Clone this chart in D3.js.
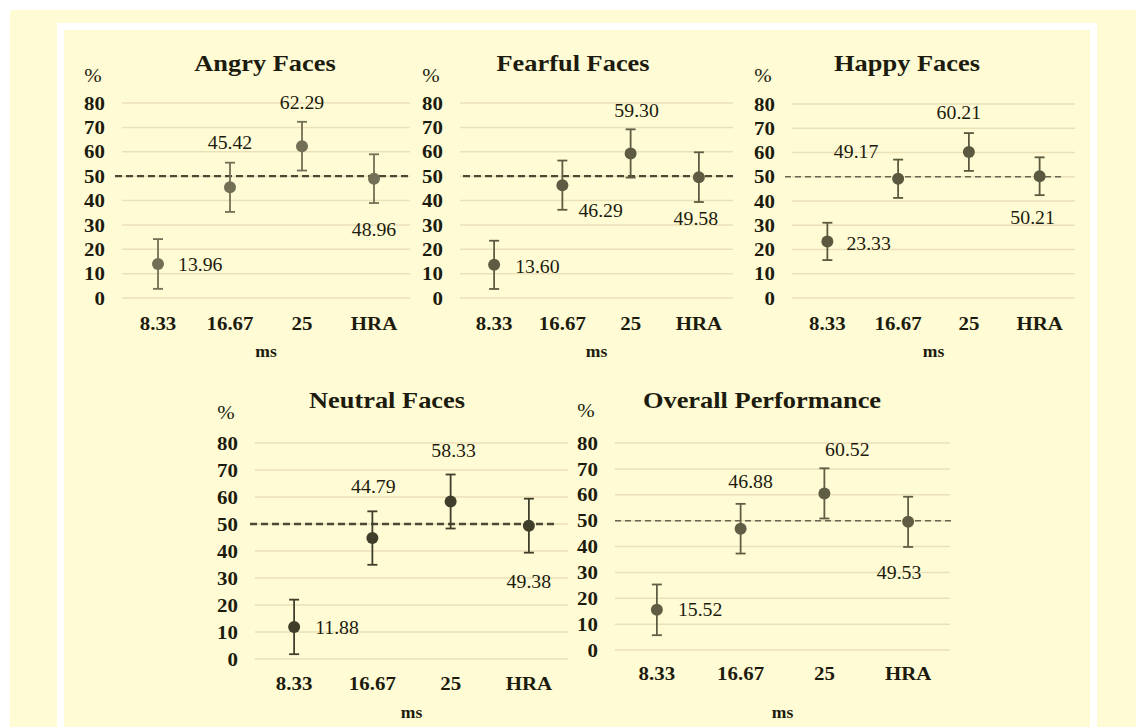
<!DOCTYPE html>
<html>
<head>
<meta charset="utf-8">
<script src="https://cdn.jsdelivr.net/npm/d3@7"></script>
<style>
  html, body { margin: 0; padding: 0; background: #ffffff; }
  svg { display: block; }
  text { font-family: "Liberation Serif", "Times New Roman", serif; fill: #1c1b0e; }
  .title { font-size: 24px; font-weight: bold; }
  .tick { font-size: 19px; font-weight: bold; }
  .val { font-size: 18px; }
  .pct { font-size: 19px; }
  .ms { font-size: 16px; font-weight: bold; }
</style>
</head>
<body>
<div id="chart"></div>
<script>
////////////////////////////////////////////////////////////
//////////////////////// Data //////////////////////////////
////////////////////////////////////////////////////////////

var panelTitles = ["Angry Faces", "Fearful Faces", "Happy Faces", "Neutral Faces", "Overall Performance"];
var categories = ["8.33", "16.67", "25", "HRA"];
var yTicks = [0, 10, 20, 30, 40, 50, 60, 70, 80];
var chanceLevel = 50;

var angryMeans   = [13.96, 45.42, 62.29, 48.96];
var fearfulMeans = [13.60, 46.29, 59.30, 49.58];
var happyMeans   = [23.33, 49.17, 60.21, 50.21];
var neutralMeans = [11.88, 44.79, 58.33, 49.38];
var overallMeans = [15.52, 46.88, 60.52, 49.53];

// error bar half-widths
var angryErr   = [10.2, 10.1, 10.0, 10.0];
var fearfulErr = [9.9, 10.1, 9.9, 10.2];
var happyErr   = [7.7, 7.9, 7.8, 7.8];
var neutralErr = [10.1, 9.9, 10.0, 10.0];
var overallErr = [9.8, 9.6, 9.7, 9.7];

var allMeans = [angryMeans, fearfulMeans, happyMeans, neutralMeans, overallMeans];
var allErr = [angryErr, fearfulErr, happyErr, neutralErr, overallErr];

////////////////////////////////////////////////////////////
//////////////////////// Layout ////////////////////////////
////////////////////////////////////////////////////////////

var W = 1136, H = 727;
var bg = "#fffbd5";

// plot box of each panel (gridline extent, y of 80 and 0), title / label rows
var layout = [
  { x0: 122, x1: 410, yTop: 103, yBot: 298, titleX: 265, titleY: 63, tickY: 323, msY: 352, pctY: 75, dash: [115, 410], thick: true, dot: "#716f55" },
  { x0: 460, x1: 733, yTop: 103, yBot: 298, titleX: 573, titleY: 63, tickY: 323, msY: 352, pctY: 75, dash: [463, 733], thick: true, dot: "#5d5c43" },
  { x0: 792, x1: 1075, yTop: 104, yBot: 298, titleX: 907, titleY: 63, tickY: 323, msY: 352, pctY: 75, dash: [785, 1062], thick: false, dot: "#5a593f" },
  { x0: 255, x1: 568, yTop: 443, yBot: 659, titleX: 387, titleY: 400, tickY: 683, msY: 713, pctY: 412, dash: [250, 558], thick: true, dot: "#3f3e2b" },
  { x0: 615, x1: 950, yTop: 443, yBot: 650, titleX: 762, titleY: 400, tickY: 673, msY: 713, pctY: 410, dash: [615, 953], thick: false, dot: "#5f5e45" }
];

// where each value label sits relative to its point: [dx, dy, anchor]
var labelPos = [
  [[20, 1, "start"], [0, -44, "middle"], [0, -43, "middle"], [0, 51, "middle"]],
  [[21, 2, "start"], [16, 26, "start"], [6, -43, "middle"], [-3, 42, "middle"]],
  [[19, 2, "start"], [-42, -27, "middle"], [-10, -39, "middle"], [-7, 42, "middle"]],
  [[21, 1, "start"], [1, -51, "middle"], [3, -51, "middle"], [0, 56, "middle"]],
  [[21, 0, "start"], [10, -47, "middle"], [23, -44, "middle"], [-9, 51, "middle"]]
];

var svg = d3.select("#chart").append("svg")
  .attr("width", W)
  .attr("height", H);

// page background and white frame
svg.append("rect").attr("x", 0).attr("y", 0).attr("width", W).attr("height", H).attr("fill", "#ffffff");
svg.append("rect").attr("x", 10).attr("y", 10).attr("width", W - 10).attr("height", H - 10).attr("fill", bg);
svg.append("rect").attr("x", 57).attr("y", 23).attr("width", 1040).attr("height", H)
  .attr("fill", "#ffffff");
svg.append("rect").attr("x", 64).attr("y", 30).attr("width", 1026).attr("height", H)
  .attr("fill", bg);

// text helper: Times-like glyphs are a bit wider in the picture
function txt(g, x, y, str, cls, anchor) {
  return g.append("text")
    .attr("class", cls)
    .attr("transform", "translate(" + x + "," + y + ") scale(1.1,1)")
    .attr("text-anchor", anchor || "middle")
    .attr("dominant-baseline", "central")
    .text(str);
}

////////////////////////////////////////////////////////////
//////////////////////// Panels ////////////////////////////
////////////////////////////////////////////////////////////

layout.forEach(function (L, p) {
  var g = svg.append("g").attr("class", "panel");

  var x = d3.scaleBand().domain(categories).range([L.x0, L.x1]);
  var y = d3.scaleLinear().domain([0, 80]).range([L.yBot, L.yTop]);

  // gridlines
  g.selectAll(".grid")
    .data(yTicks)
    .enter().append("line")
    .attr("x1", L.x0).attr("x2", L.x1)
    .attr("y1", function (d) { return y(d); })
    .attr("y2", function (d) { return y(d); })
    .attr("stroke", "#ebe1b8")
    .attr("stroke-width", 1.5);

  // y tick labels
  yTicks.forEach(function (t) {
    txt(g, L.x0 - 17, y(t), String(t), "tick", "end");
  });
  txt(g, L.x0 - 29, L.pctY, "%", "pct", "middle");

  // x tick labels + axis title
  categories.forEach(function (c) {
    txt(g, x(c) + x.bandwidth() / 2, L.tickY, c, "tick", "middle");
  });
  txt(g, (L.x0 + L.x1) / 2, L.msY, "ms", "ms", "middle");

  // title
  txt(g, L.titleX, L.titleY, panelTitles[p], "title", "middle");

  // chance line
  g.append("line")
    .attr("x1", L.dash[0]).attr("x2", L.dash[1])
    .attr("y1", y(chanceLevel)).attr("y2", y(chanceLevel))
    .attr("stroke", L.thick ? "#4b4934" : "#67654f")
    .attr("stroke-width", L.thick ? 2.4 : 1.5)
    .attr("stroke-dasharray", L.thick ? "7,4" : "6,4");

  var pts = categories.map(function (c, i) {
    return { cat: c, mean: allMeans[p][i], err: allErr[p][i], pos: labelPos[p][i] };
  });
  var cx = function (d) { return x(d.cat) + x.bandwidth() / 2; };

  // error bars
  var eb = g.selectAll(".err").data(pts).enter().append("g");
  eb.append("line")
    .attr("x1", cx).attr("x2", cx)
    .attr("y1", function (d) { return y(d.mean - d.err); })
    .attr("y2", function (d) { return y(d.mean + d.err); })
    .attr("stroke", L.dot).attr("stroke-width", 1.8);
  [-1, 1].forEach(function (s) {
    eb.append("line")
      .attr("x1", function (d) { return cx(d) - 5; })
      .attr("x2", function (d) { return cx(d) + 5; })
      .attr("y1", function (d) { return y(d.mean + s * d.err); })
      .attr("y2", function (d) { return y(d.mean + s * d.err); })
      .attr("stroke", L.dot).attr("stroke-width", 1.8);
  });

  // points
  g.selectAll(".dot").data(pts).enter().append("circle")
    .attr("cx", cx)
    .attr("cy", function (d) { return y(d.mean); })
    .attr("r", 6)
    .attr("fill", L.dot);

  // value labels
  pts.forEach(function (d) {
    txt(g, cx(d) + d.pos[0], y(d.mean) + d.pos[1], d.mean.toFixed(2), "val", d.pos[2]);
  });
});
</script>
</body>
</html>
